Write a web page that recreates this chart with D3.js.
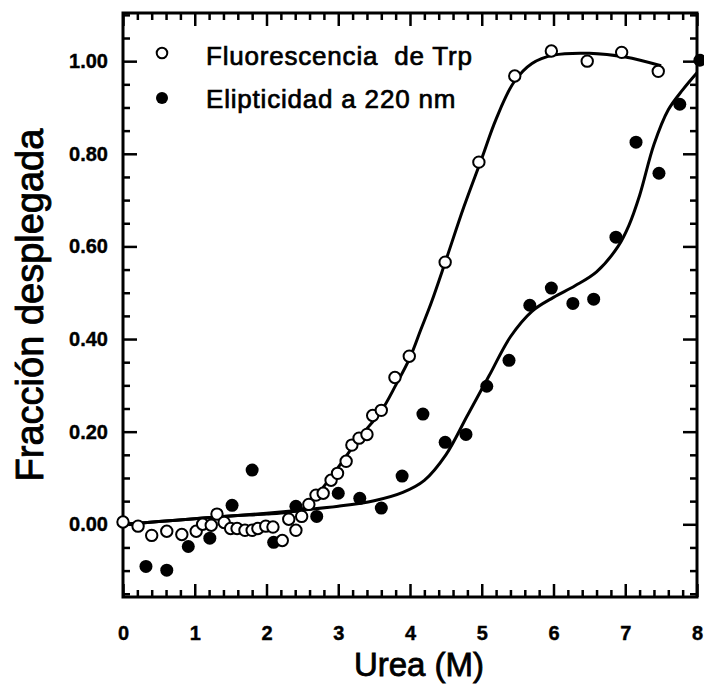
<!DOCTYPE html>
<html>
<head>
<meta charset="utf-8">
<script src="https://cdn.jsdelivr.net/npm/d3@7"></script>
<style>
  body { margin: 0; background: #fff; }
  svg { font-family: "Liberation Sans", Arial, Helvetica, sans-serif; }
</style>
</head>
<body>
<div id="chartDiv"></div>
<script>
// open circles - Fluorescencia de Trp
var fluorUrea = [0.0, 0.21, 0.40, 0.61, 0.82, 1.02, 1.11, 1.23, 1.31, 1.41, 1.50, 1.59, 1.70, 1.80, 1.88, 1.99,
    2.09, 2.22, 2.31, 2.41, 2.49, 2.59, 2.69, 2.79, 2.90, 2.99, 3.11, 3.19, 3.29, 3.40, 3.48, 3.60,
    3.79, 3.99, 4.49, 4.96, 5.46, 5.97, 6.47, 6.95, 7.46];
var fluorFrac = [0.005, -0.004, -0.024, -0.015, -0.022, -0.015, 0.0, -0.002, 0.022, 0.004, -0.009, -0.009, -0.013, -0.013, -0.009, -0.004,
    -0.006, -0.035, 0.011, -0.013, 0.017, 0.043, 0.063, 0.067, 0.095, 0.110, 0.136, 0.171, 0.186, 0.194, 0.235, 0.246,
    0.317, 0.363, 0.566, 0.782, 0.968, 1.022, 1.000, 1.019, 0.978];

// filled circles - Elipticidad a 220 nm
var elipUrea = [0.32, 0.61, 0.91, 1.21, 1.52, 1.80, 2.10, 2.41, 2.70, 3.00, 3.30, 3.60, 3.89, 4.18,
    4.49, 4.78, 5.07, 5.38, 5.67, 5.97, 6.27, 6.56, 6.87, 7.15, 7.47, 7.76, 8.04];
var elipFrac = [-0.091, -0.099, -0.048, -0.030, 0.041, 0.117, -0.039, 0.039, 0.017, 0.067, 0.056, 0.035, 0.104, 0.238,
    0.177, 0.194, 0.298, 0.354, 0.473, 0.510, 0.477, 0.486, 0.620, 0.825, 0.758, 0.907, 1.002];

// fitted curves
var fluorFitUrea = [0.0, 0.5, 1.0, 1.5, 2.0, 2.3, 2.5, 2.7, 2.9, 3.1, 3.3, 3.6, 3.8, 4.0, 4.15, 4.3, 4.5, 4.75, 5.0, 5.2, 5.45, 5.7, 6.0, 6.5, 7.0, 7.5];
var fluorFitFrac = [0.0, 0.006, 0.012, 0.018, 0.022, 0.026, 0.033, 0.063, 0.102, 0.145, 0.188, 0.245, 0.30, 0.36, 0.42, 0.48, 0.57, 0.685, 0.79, 0.875, 0.955, 0.995, 1.013, 1.017, 1.009, 0.99];

var elipFitUrea = [0.0, 0.5, 1.0, 1.5, 2.0, 2.5, 3.0, 3.5, 3.9, 4.2, 4.5, 4.8, 5.1, 5.4, 5.7, 6.0, 6.3, 6.6, 6.9, 7.05, 7.2, 7.4, 7.6, 7.8, 8.0];
var elipFitFrac = [0.0, 0.006, 0.012, 0.018, 0.024, 0.031, 0.039, 0.051, 0.069, 0.095, 0.15, 0.235, 0.32, 0.405, 0.46, 0.49, 0.515, 0.545, 0.60, 0.645, 0.71, 0.82, 0.895, 0.938, 0.975];

var xTicks = [0, 1, 2, 3, 4, 5, 6, 7, 8];
var yTicks = [0.0, 0.2, 0.4, 0.6, 0.8, 1.0];
var legendLabels = ["Fluorescencia  de Trp", "Elipticidad a 220 nm"];

var width = 704, height = 687;
var plotLeft = 123, plotRight = 697, plotTop = 13, plotBottom = 597;

var svg = d3.select("#chartDiv").append("svg")
    .attr("width", width)
    .attr("height", height);

var x = d3.scaleLinear().domain([0, 8]).range([plotLeft, plotRight]);
var y = d3.scaleLinear().domain([-0.157, 1.104]).range([plotBottom, plotTop]);

var xMinor = d3.range(0, 8.001, 0.2).filter(function(v) { return Math.abs(v - Math.round(v)) > 0.01; });
var yMinor = d3.range(-0.15, 1.101, 0.05).filter(function(v) { return Math.abs(v * 5 - Math.round(v * 5)) > 0.01; });

function styleAxis(g) {
    g.select(".domain").remove();
    g.selectAll("line").attr("stroke", "#000").attr("stroke-width", 2.5);
}

// left axis with labels
svg.append("g")
    .attr("transform", "translate(" + plotLeft + ",0)")
    .call(d3.axisLeft(y).tickValues(yTicks).tickSizeInner(-14).tickSizeOuter(0).tickPadding(15).tickFormat(d3.format(".2f")))
    .call(styleAxis)
    .selectAll("text")
    .style("font-size", "20px")
    .style("font-weight", "bold")
    .attr("fill", "#000")
    .attr("stroke", "#000")
    .attr("stroke-width", 0.4);

svg.append("g")
    .attr("transform", "translate(" + plotLeft + ",0)")
    .call(d3.axisLeft(y).tickValues(yMinor).tickSizeInner(-7).tickSizeOuter(0).tickFormat(""))
    .call(styleAxis);

// right axis, ticks only
svg.append("g")
    .attr("transform", "translate(" + plotRight + ",0)")
    .call(d3.axisRight(y).tickValues(yTicks).tickSizeInner(-14).tickSizeOuter(0).tickFormat(""))
    .call(styleAxis);
svg.append("g")
    .attr("transform", "translate(" + plotRight + ",0)")
    .call(d3.axisRight(y).tickValues(yMinor).tickSizeInner(-7).tickSizeOuter(0).tickFormat(""))
    .call(styleAxis);

// bottom axis with labels
svg.append("g")
    .attr("transform", "translate(0," + plotBottom + ")")
    .call(d3.axisBottom(x).tickValues(xTicks).tickSizeInner(-13).tickSizeOuter(0).tickFormat(d3.format("d")))
    .call(styleAxis)
    .selectAll("text")
    .attr("y", 43)
    .attr("dy", 0)
    .style("font-size", "20px")
    .style("font-weight", "bold")
    .attr("fill", "#000")
    .attr("stroke", "#000")
    .attr("stroke-width", 0.4);

svg.append("g")
    .attr("transform", "translate(0," + plotBottom + ")")
    .call(d3.axisBottom(x).tickValues(xMinor).tickSizeInner(-7).tickSizeOuter(0).tickFormat(""))
    .call(styleAxis);

// top axis, ticks only
svg.append("g")
    .attr("transform", "translate(0," + plotTop + ")")
    .call(d3.axisTop(x).tickValues(xTicks).tickSizeInner(-13).tickSizeOuter(0).tickFormat(""))
    .call(styleAxis);
svg.append("g")
    .attr("transform", "translate(0," + plotTop + ")")
    .call(d3.axisTop(x).tickValues(xMinor).tickSizeInner(-7).tickSizeOuter(0).tickFormat(""))
    .call(styleAxis);

// frame
svg.append("rect")
    .attr("x", plotLeft)
    .attr("y", plotTop)
    .attr("width", plotRight - plotLeft)
    .attr("height", plotBottom - plotTop)
    .attr("fill", "none")
    .attr("stroke", "#000")
    .attr("stroke-width", 3);

// fitted lines
var line = d3.line()
    .x(function(d) { return x(d[0]); })
    .y(function(d) { return y(d[1]); })
    .curve(d3.curveCatmullRom.alpha(0.5));

svg.append("path")
    .datum(d3.zip(elipFitUrea, elipFitFrac))
    .attr("d", line)
    .attr("fill", "none")
    .attr("stroke", "#000")
    .attr("stroke-width", 3);

svg.append("path")
    .datum(d3.zip(fluorFitUrea, fluorFitFrac))
    .attr("d", line)
    .attr("fill", "none")
    .attr("stroke", "#000")
    .attr("stroke-width", 3);

// points
svg.append("g")
    .selectAll("circle")
    .data(d3.zip(elipUrea, elipFrac))
    .enter().append("circle")
    .attr("cx", function(d) { return x(d[0]); })
    .attr("cy", function(d) { return y(d[1]); })
    .attr("r", 6.5)
    .attr("fill", "#000");

svg.append("g")
    .selectAll("circle")
    .data(d3.zip(fluorUrea, fluorFrac))
    .enter().append("circle")
    .attr("cx", function(d) { return x(d[0]); })
    .attr("cy", function(d) { return y(d[1]); })
    .attr("r", 5.7)
    .attr("fill", "#fff")
    .attr("stroke", "#000")
    .attr("stroke-width", 2);

// legend
var legend = svg.append("g");
legend.append("circle")
    .attr("cx", 162).attr("cy", 53).attr("r", 5.3)
    .attr("fill", "#fff").attr("stroke", "#000").attr("stroke-width", 2);
legend.append("circle")
    .attr("cx", 162).attr("cy", 98).attr("r", 6)
    .attr("fill", "#000");
legend.selectAll("text")
    .data(legendLabels)
    .enter().append("text")
    .attr("x", 206)
    .attr("y", function(d, i) { return 65 + i * 43; })
    .attr("xml:space", "preserve")
    .style("white-space", "pre")
    .style("font-size", "26px")
    .style("letter-spacing", "0.8px")
    .attr("stroke", "#000")
    .attr("stroke-width", 0.7)
    .text(function(d) { return d; });

// axis titles
svg.append("text")
    .attr("x", 419)
    .attr("y", 676)
    .attr("text-anchor", "middle")
    .style("font-size", "33px")
    .attr("stroke", "#000")
    .attr("stroke-width", 0.8)
    .text("Urea (M)");

svg.append("text")
    .attr("transform", "translate(43,305) rotate(-90)")
    .attr("text-anchor", "middle")
    .style("font-size", "38px")
    .attr("stroke", "#000")
    .attr("stroke-width", 0.9)
    .text("Fracción desplegada");
</script>
</body>
</html>
